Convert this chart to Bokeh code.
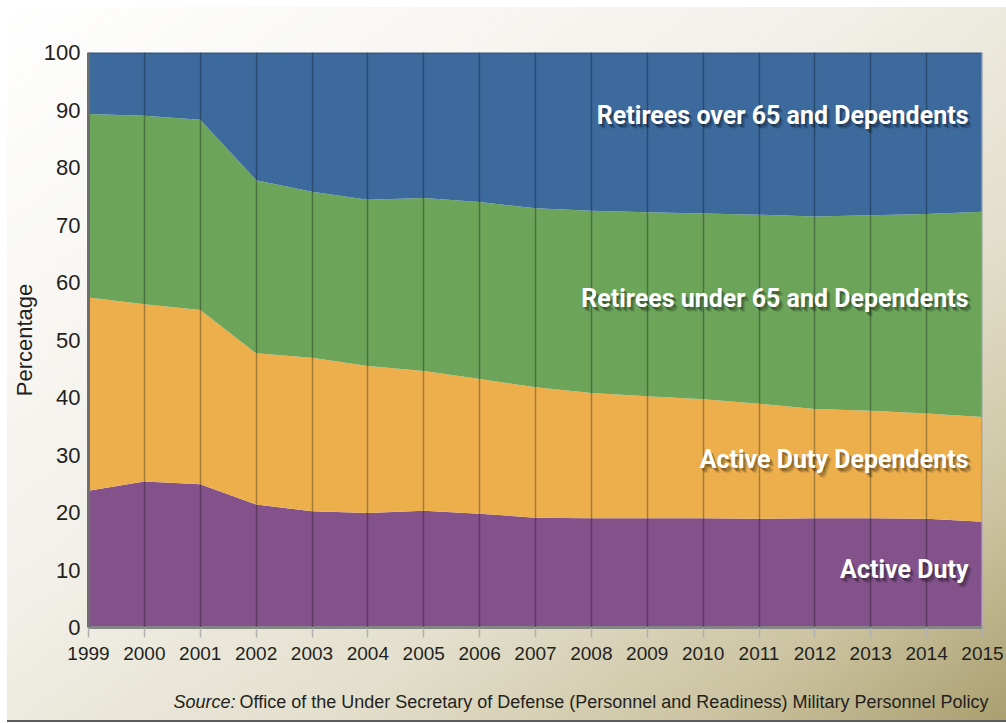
from bokeh.plotting import figure
from bokeh.models import ColumnDataSource, Range1d, FixedTicker, Label, Span
from bokeh.embed import file_html
from bokeh.resources import INLINE

# ---- data (percent of beneficiaries) ----
years = list(range(1999, 2016))
active_duty = [23.8, 25.4, 24.9, 21.4, 20.2, 19.9, 20.3, 19.8, 19.1, 19.0, 19.0, 19.0, 18.9, 19.0, 19.0, 18.9, 18.4]
active_duty_dependents = [33.6, 30.8, 30.3, 26.3, 26.7, 25.6, 24.3, 23.4, 22.7, 21.8, 21.2, 20.7, 20.0, 19.0, 18.7, 18.3, 18.2]
retirees_under_65 = [31.9, 32.8, 33.1, 30.1, 28.9, 28.9, 30.1, 30.8, 31.1, 31.7, 32.0, 32.3, 32.9, 33.5, 34.0, 34.7, 35.7]
retirees_over_65 = [10.7, 11.0, 11.7, 22.2, 24.2, 25.6, 25.3, 26.0, 27.1, 27.5, 27.8, 28.0, 28.2, 28.5, 28.3, 28.1, 27.7]

series_keys = ["active_duty", "active_duty_dependents", "retirees_under_65", "retirees_over_65"]
series_names = ["Active Duty", "Active Duty Dependents",
                "Retirees under 65 and Dependents", "Retirees over 65 and Dependents"]
series_colors = ["#84528b", "#edaf4c", "#6ca45a", "#3c6a9d"]
y_ticks = list(range(0, 101, 10))
y_label = "Percentage"
source_italic = "Source:"
source_text = "Office of the Under Secretary of Defense (Personnel and Readiness) Military Personnel Policy"

src = ColumnDataSource(dict(year=years, active_duty=active_duty,
                            active_duty_dependents=active_duty_dependents,
                            retirees_under_65=retirees_under_65,
                            retirees_over_65=retirees_over_65))

p = figure(width=1006, height=723, x_range=Range1d(1999, 2015), y_range=Range1d(0, 100),
           output_backend="svg", toolbar_location=None, title=None,
           min_border_left=88, min_border_right=24, min_border_top=52, min_border_bottom=96)

p.varea_stack(stackers=series_keys, x="year", color=series_colors, source=src)

p.border_fill_color = None
p.outline_line_color = None
p.styles = {"background":
            "linear-gradient(to bottom, #ffffff 0px, #ffffff 7px, transparent 7px), "
            "linear-gradient(to right, #ffffff 0px, #ffffff 7px, transparent 7px), "
            "linear-gradient(to top, #ffffff 0px, #ffffff 0.5px, #5a5a5a 0.5px, #5a5a5a 3px, transparent 3px), "
            "linear-gradient(to bottom right, #ffffff 0%, #f2f0e9 42%, #e3dfcc 66%, #cbc3a0 85%, #a99e6e 100%)"}

# grid: vertical lines per year drawn over the areas
p.ygrid.visible = False
p.xgrid.ticker = FixedTicker(ticks=years)
p.xgrid.grid_line_color = "black"
p.xgrid.grid_line_alpha = 0.3
p.xgrid.grid_line_width = 1.5
p.xgrid.level = "guide"

p.add_layout(Span(location=100, dimension="width", line_color="#1d3556", line_alpha=0.55, line_width=2))
p.add_layout(Span(location=2015, dimension="height", line_color="#9c9c9c", line_width=2.5))

# axes
font = "Liberation Sans"
p.xaxis.ticker = FixedTicker(ticks=years)
p.xaxis.axis_line_color = "#858585"
p.xaxis.axis_line_width = 3
p.xaxis.major_tick_out = 10
p.xaxis.major_tick_in = 0
p.xaxis.major_tick_line_color = "#b0b0b0"
p.xaxis.major_tick_line_width = 1.5
p.xaxis.minor_tick_line_color = None
p.xaxis.major_label_text_font = font
p.xaxis.major_label_text_font_size = "19px"
p.xaxis.major_label_text_color = "#231f20"
p.xaxis.major_label_standoff = 9

p.yaxis.ticker = FixedTicker(ticks=y_ticks)
p.yaxis.axis_line_color = "#6e6e70"
p.yaxis.axis_line_width = 3
p.yaxis.major_tick_out = 0
p.yaxis.major_tick_in = 0
p.yaxis.minor_tick_line_color = None
p.yaxis.major_label_text_font = font
p.yaxis.major_label_text_font_size = "22px"
p.yaxis.major_label_text_color = "#231f20"
p.yaxis.major_label_standoff = 8
p.yaxis.axis_label = y_label
p.yaxis.axis_label_text_font = font
p.yaxis.axis_label_text_font_size = "22px"
p.yaxis.axis_label_text_font_style = "normal"
p.yaxis.axis_label_text_color = "#231f20"
p.yaxis.axis_label_standoff = 4

# series labels (white bold with soft shadow), in screen units from the frame's bottom-left
label_y = [58, 168, 329, 512]
label_x = 880
label_font = "Roboto"
for name, ly in zip(series_names, label_y):
    for dx, dy, a in [(1, 2, 0.16), (2, 3, 0.18), (3, 4, 0.15), (4, 5, 0.1)]:
        p.add_layout(Label(x=label_x + dx, y=ly - dy, x_units="screen", y_units="screen", text=name,
                           text_font=label_font, text_font_size="25px", text_font_style="bold",
                           text_color="black", text_alpha=a, text_align="right",
                           text_baseline="alphabetic"))
    p.add_layout(Label(x=label_x, y=ly, x_units="screen", y_units="screen", text=name,
                       text_font=label_font, text_font_size="25px", text_font_style="bold",
                       text_color="white", text_align="right", text_baseline="alphabetic"))

# source note, placed in the bottom side panel (not clipped to the frame); positions via the frame scales
p.add_layout(Label(x=2000.52, y=-12.96, text=source_italic,
                   text_font=font, text_font_size="18px", text_font_style="italic",
                   text_color="#231f20", text_align="left", text_baseline="alphabetic"), "below")
p.add_layout(Label(x=2015.107, y=-12.96, text=source_text,
                   text_font=font, text_font_size="18px", text_font_style="normal",
                   text_color="#231f20", text_align="right", text_baseline="alphabetic"), "below")

open("out.html", "w").write(file_html(p, INLINE))
